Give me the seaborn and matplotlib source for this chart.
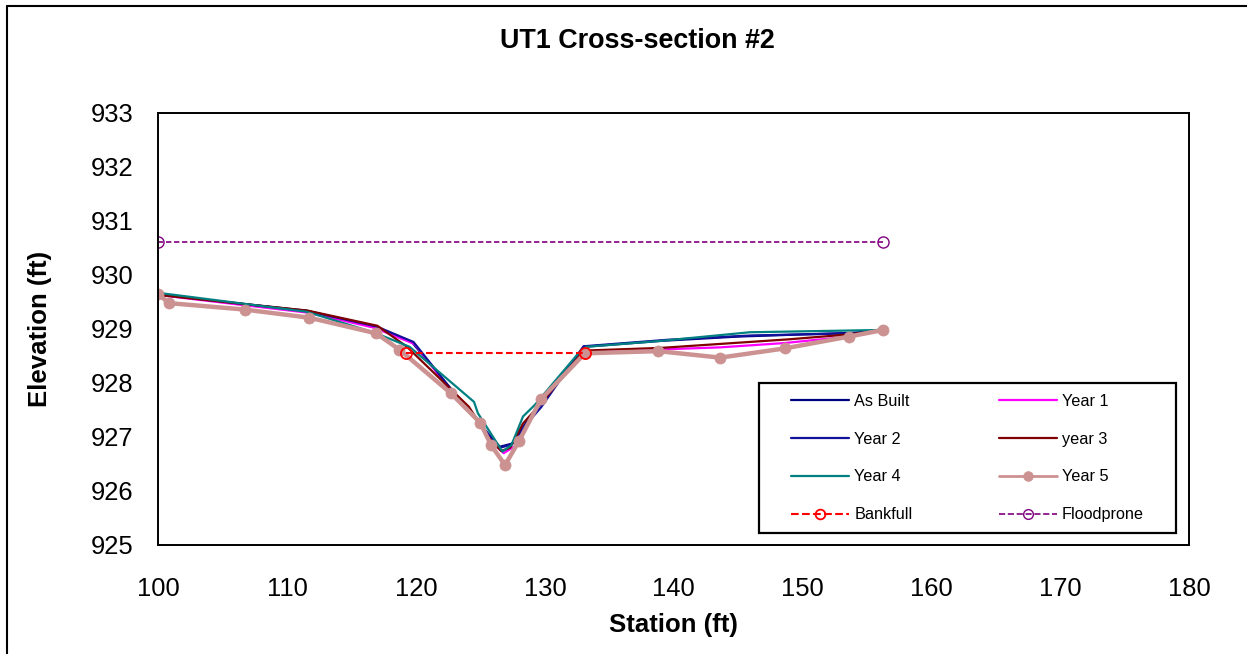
import matplotlib
matplotlib.use("Agg")
import matplotlib.pyplot as plt
from matplotlib.lines import Line2D
from matplotlib.patches import Rectangle
import seaborn as sns

# ---------------- data ----------------
title = "UT1 Cross-section #2"
xlabel = "Station (ft)"
ylabel = "Elevation (ft)"

asbuilt_x = [100.0, 105.0, 111.5, 116.8, 119.7, 122.5, 124.6, 125.6, 126.5, 127.5, 128.5, 129.6, 133.0, 139.0, 145.0, 150.0, 154.0, 156.2]
asbuilt_y = [929.65, 929.50, 929.34, 929.04, 928.75, 927.95, 927.35, 927.05, 926.82, 926.88, 927.25, 927.60, 928.67, 928.78, 928.86, 928.90, 928.93, 928.98]

year1_x = [100.0, 106.7, 111.7, 116.8, 119.9, 122.5, 124.5, 125.7, 126.8, 127.8, 129.6, 133.0, 138.8, 143.6, 148.6, 153.6, 156.2]
year1_y = [929.63, 929.44, 929.30, 929.02, 928.72, 927.92, 927.40, 926.95, 926.70, 926.85, 927.62, 928.58, 928.62, 928.66, 928.74, 928.86, 928.97]

year2_x = [100.0, 111.6, 116.9, 119.8, 122.4, 124.7, 126.5, 127.4, 128.6, 129.7, 133.0, 139.5, 146.0, 154.0, 156.2]
year2_y = [929.64, 929.33, 929.05, 928.76, 927.98, 927.32, 926.80, 926.86, 927.25, 927.55, 928.68, 928.80, 928.88, 928.92, 928.98]

year3_x = [100.0, 111.6, 117.0, 119.3, 124.1, 125.6, 126.6, 127.3, 128.3, 129.8, 133.0, 139.0, 149.0, 153.6, 156.2]
year3_y = [929.63, 929.34, 929.06, 928.67, 927.56, 927.00, 926.74, 926.80, 927.25, 927.65, 928.60, 928.65, 928.81, 928.90, 928.98]

year4_x = [100.0, 111.5, 116.8, 119.5, 124.5, 124.8, 126.7, 127.4, 128.3, 129.2, 132.6, 133.2, 139.0, 145.9, 155.7, 156.2]
year4_y = [929.67, 929.32, 928.93, 928.67, 927.65, 927.44, 926.73, 926.85, 927.38, 927.59, 928.55, 928.67, 928.78, 928.94, 928.98, 929.00]

year5_x = [100.0, 100.8, 106.7, 111.7, 116.9, 118.7, 122.7, 125.0, 125.8, 126.9, 128.0, 129.7, 133.1, 138.8, 143.6, 148.6, 153.6, 156.2]
year5_y = [929.65, 929.48, 929.36, 929.21, 928.92, 928.62, 927.81, 927.26, 926.86, 926.48, 926.93, 927.70, 928.55, 928.59, 928.47, 928.64, 928.86, 928.98]

bankfull_x = [119.2, 133.1]
bankfull_y = [928.55, 928.55]

floodprone_x = [100.0, 156.2]
floodprone_y = [930.62, 930.62]

xticks = [100, 110, 120, 130, 140, 150, 160, 170, 180]
yticks = [925, 926, 927, 928, 929, 930, 931, 932, 933]

# ---------------- style ----------------
sns.set_style("white")
plt.rcParams["font.family"] = ["Liberation Sans", "DejaVu Sans"]
plt.rcParams["text.color"] = "black"
plt.rcParams["axes.labelcolor"] = "black"
plt.rcParams["xtick.color"] = "black"
plt.rcParams["ytick.color"] = "black"

W, H = 1247, 654
fig = plt.figure(figsize=(W / 100, H / 100), dpi=100)
ax = fig.add_axes([158.3 / W, 1 - 545 / H, (1189.3 - 158.3) / W, (545 - 113) / H])

common = dict(ax=ax, sort=False, estimator=None)
sns.lineplot(x=asbuilt_x, y=asbuilt_y, color="#000080", lw=1.6, label="As Built", **common)
sns.lineplot(x=year1_x, y=year1_y, color="#FF00FF", lw=1.6, label="Year 1", **common)
sns.lineplot(x=year2_x, y=year2_y, color="#10109A", lw=1.6, label="Year 2", **common)
sns.lineplot(x=year3_x, y=year3_y, color="#800000", lw=1.6, label="year 3", **common)
sns.lineplot(x=year4_x, y=year4_y, color="#008080", lw=1.6, label="Year 4", **common)
sns.lineplot(x=year5_x, y=year5_y, color="#CC9292", lw=3.2, marker="o", markersize=8,
             markerfacecolor="#CC9292", markeredgecolor="#CC9292", markeredgewidth=0.5,
             label="Year 5", **common)
sns.lineplot(x=bankfull_x, y=bankfull_y, color="#FF0000", lw=1.5, dashes=False, marker="o",
             markersize=8, markerfacecolor="none", markeredgecolor="#FF0000",
             markeredgewidth=1.3, label="Bankfull", **common)
sns.lineplot(x=floodprone_x, y=floodprone_y, color="#800080", lw=1.2, dashes=False, marker="o",
             markersize=8, markerfacecolor="none", markeredgecolor="#800080",
             markeredgewidth=1.0, label="Floodprone", **common)

# dashed styles for the reference lines
for line in ax.get_lines():
    if line.get_label() in ("Bankfull", "Floodprone"):
        line.set_linestyle((0, (3.2, 1.6)))

ax.set_xlim(100, 180)
ax.set_ylim(925, 933)
ax.set_xticks(xticks)
ax.set_yticks(yticks)
ax.set_xticklabels([str(t) for t in xticks])
ax.set_yticklabels([str(t) for t in yticks])
ax.tick_params(axis="both", which="major", direction="out", length=8, width=1,
               color="#A0A0A0", labelsize=18.4, labelcolor="black")
ax.tick_params(axis="x", pad=15)
ax.tick_params(axis="y", pad=10)
for sp in ax.spines.values():
    sp.set_visible(True)
    sp.set_color("black")
    sp.set_linewidth(1.4)

ax.set_xlabel(xlabel, fontsize=18.5, fontweight="bold", labelpad=9, color="black")
ax.set_ylabel(ylabel, fontsize=18.5, fontweight="bold", labelpad=28, color="black")
fig.text(637 / W, 1 - 41 / H, title, ha="center", va="center", fontsize=19.4,
         fontweight="bold", color="black")

# legend (row-wise order as in reference)
handles, labels = ax.get_legend_handles_labels()
hmap = dict(zip(labels, handles))
order = ["As Built", "Year 2", "Year 4", "Bankfull", "Year 1", "year 3", "Year 5", "Floodprone"]
leg_handles = []
for lab in order:
    h = hmap[lab]
    nh = Line2D([], [], color=h.get_color(), lw=min(h.get_linewidth(), 2.0),
                linestyle=h.get_linestyle(), marker=h.get_marker(),
                markersize=7 if h.get_marker() not in (None, "None", "") else 0,
                markerfacecolor=h.get_markerfacecolor(), markeredgecolor=h.get_markeredgecolor(),
                markeredgewidth=h.get_markeredgewidth())
    leg_handles.append(nh)
box_l, box_r, box_t, box_b = 759, 1176, 383, 533
leg = ax.legend(leg_handles, order, ncol=2, loc="center",
                bbox_to_anchor=(((box_l + box_r) / 2) / W, 1 - ((box_t + box_b) / 2) / H),
                bbox_transform=fig.transFigure, frameon=False, fontsize=11.7,
                handlelength=3.6, handletextpad=0.3, columnspacing=5.3,
                labelspacing=1.41, borderpad=0.2, numpoints=1)
for t in leg.get_texts():
    t.set_color("black")
fig.patches.append(Rectangle((box_l / W, 1 - box_b / H), (box_r - box_l) / W, (box_b - box_t) / H,
                             transform=fig.transFigure, fill=False, edgecolor="black",
                             linewidth=1.6, zorder=10))

# outer chart frame (left and top visible in the reference)
fig.add_artist(Line2D([7 / W, 7 / W], [0, 1 - 6 / H], transform=fig.transFigure, color="black", lw=1.5))
fig.add_artist(Line2D([7 / W, 1], [1 - 6 / H, 1 - 6 / H], transform=fig.transFigure, color="black", lw=1.5))

fig.savefig("out.png", dpi=100)
